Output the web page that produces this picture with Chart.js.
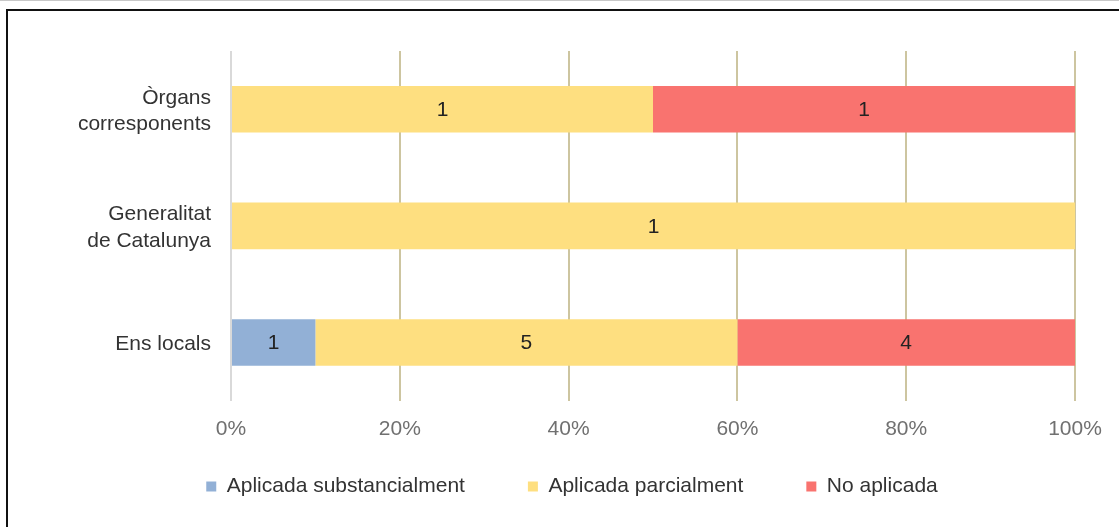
<!DOCTYPE html>
<html>
<head>
<meta charset="utf-8">
<script src="https://cdn.jsdelivr.net/npm/chart.js@4.4.0/dist/chart.umd.min.js"></script>
<style>
    html, body { margin: 0; padding: 0; background: #fff; }
    body { width: 1119px; height: 527px; overflow: hidden; position: relative; }
    #topline { position: absolute; left: 0; top: 0; width: 1119px; height: 1px; background: #c8c8c8; }
    #frame { position: absolute; left: 6px; top: 9px; width: 1200px; height: 600px;
             border-top: 2px solid #111; border-left: 2px solid #111; }
    #wrap { position: absolute; left: 0; top: 0; width: 1119px; height: 527px; }
</style>
</head>
<body>
<div id="topline"></div>
<div id="frame"></div>
<div id="wrap"><canvas id="chart" width="1119" height="527"></canvas></div>
<script>
// data (counts per category)
const categories = [["Òrgans", "corresponents"], ["Generalitat", "de Catalunya"], "Ens locals"];
const seriesNames = ["Aplicada substancialment", "Aplicada parcialment", "No aplicada"];
const substancialment = [0, 0, 1];
const parcialment = [1, 1, 5];
const noAplicada = [1, 0, 4];
const xTicks = [0, 20, 40, 60, 80, 100];
const colors = ["#92b0d6", "#fedf80", "#f9736f"];

const FONT = "Liberation Sans";
const counts = [substancialment, parcialment, noAplicada];
const totals = categories.map((_, i) => counts.reduce((s, c) => s + c[i], 0));
const toPercent = arr => arr.map((v, i) => totals[i] ? v / totals[i] * 100 : 0);

// numbers inside the bars
const barLabels = {
    id: "barLabels",
    afterDatasetsDraw(chart) {
        const ctx = chart.ctx;
        ctx.save();
        ctx.font = `21px "${FONT}"`;
        ctx.fillStyle = "#222";
        ctx.textAlign = "center";
        ctx.textBaseline = "middle";
        chart.data.datasets.forEach((ds, di) => {
            chart.getDatasetMeta(di).data.forEach((bar, i) => {
                const n = ds.counts[i];
                if (!n) return;
                const p = bar.getCenterPoint();
                ctx.fillText(n, p.x, p.y + 1);
            });
        });
        ctx.restore();
    }
};

// legend keeps wide horizontal gaps but sits closer to the axis:
// stretch its box upwards (only the top edge) so nothing gets clipped
const liftLegend = {
    id: "liftLegend",
    afterLayout(chart) {
        chart.legend.top -= 45;
    }
};

const datasets = counts.map((c, i) => ({
    label: seriesNames[i],
    data: toPercent(c),
    counts: c,
    backgroundColor: colors[i],
    borderWidth: 0,
    barPercentage: 0.5,
    categoryPercentage: 0.8
}));

new Chart(document.getElementById("chart").getContext("2d"), {
    type: "bar",
    data: { labels: categories, datasets },
    plugins: [barLabels, liftLegend],
    options: {
        responsive: false,
        animation: false,
        indexAxis: "y",
        layout: { padding: { top: 51, right: 44, bottom: 0, left: 69 } },
        plugins: {
            tooltip: { enabled: false },
            legend: {
                position: "bottom",
                maxHeight: 69,
                labels: {
                    boxWidth: 10,
                    boxHeight: 10,
                    padding: 63,
                    color: "#333",
                    font: { family: FONT, size: 21 }
                }
            }
        },
        scales: {
            x: {
                stacked: true,
                min: 0,
                max: 100,
                afterBuildTicks: s => { s.ticks = xTicks.map(v => ({ value: v })); },
                ticks: {
                    callback: v => v + "%",
                    color: "#707070",
                    padding: 16,
                    font: { family: FONT, size: 21 }
                },
                grid: {
                    color: c => c.index === 0 ? "#d9d9d9" : "#cdc5a0",
                    lineWidth: 2,
                    drawTicks: false
                },
                border: { display: false }
            },
            y: {
                stacked: true,
                afterFit: s => { s.width = 162; },
                ticks: {
                    color: "#333",
                    padding: 20,
                    labelOffset: 2,
                    font: { family: FONT, size: 21, lineHeight: 1.26 }
                },
                grid: { display: false, drawTicks: false },
                border: { display: false }
            }
        }
    }
});
</script>
</body>
</html>
